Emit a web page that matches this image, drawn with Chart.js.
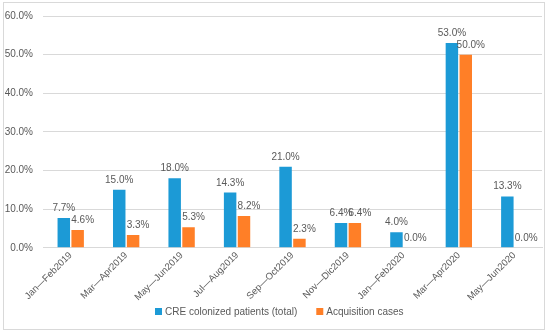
<!DOCTYPE html>
<html>
<head>
<meta charset="utf-8">
<script src="https://cdn.jsdelivr.net/npm/chart.js@4/dist/chart.umd.min.js"></script>
<style>
  html, body { margin: 0; padding: 0; background: #fff; }
  #wrap { width: 550px; height: 334px; position: relative; }
</style>
</head>
<body>
<div id="wrap"><canvas id="cre"></canvas></div>
<script>
const periods = ['Jan\u2014Feb2019', 'Mar\u2014Apr2019', 'May\u2014Jun2019', 'Jul\u2014Aug2019', 'Sep\u2014Oct2019',
    'Nov\u2014Dic2019', 'Jan\u2014Feb2020', 'Mar\u2014Apr2020', 'May\u2014Jun2020'];
const colonized = [7.7, 15.0, 18.0, 14.3, 21.0, 6.4, 4.0, 53.0, 13.3];
const acquisition = [4.6, 3.3, 5.3, 8.2, 2.3, 6.4, 0.0, 50.0, 0.0];
const seriesNames = ['CRE colonized patients (total)', 'Acquisition cases'];

const textGray = '#595959';
const fontFamily = '"Liberation Sans", Arial, sans-serif';

// value labels above each bar
const valueLabels = {
    id: 'valueLabels',
    afterDatasetsDraw(chart) {
        const ctx = chart.ctx;
        ctx.save();
        ctx.font = '10px ' + fontFamily;
        ctx.fillStyle = textGray;
        ctx.textAlign = 'center';
        ctx.textBaseline = 'alphabetic';
        chart.data.datasets.forEach((ds, i) => {
            const meta = chart.getDatasetMeta(i);
            const dx = i === 1 ? 5 : 0;
            meta.data.forEach((bar, j) => {
                ctx.fillText(ds.data[j].toFixed(1) + '%', bar.x + dx, bar.y - 7);
            });
        });
        ctx.restore();
    }
};

// legend drawn by hand so it can sit close under the slanted labels
const bottomLegend = {
    id: 'bottomLegend',
    afterDraw(chart) {
        const ctx = chart.ctx;
        ctx.save();
        ctx.font = '10px ' + fontFamily;
        ctx.textBaseline = 'middle';
        ctx.textAlign = 'left';
        let x = 155;
        const y = 312;
        chart.data.datasets.forEach(ds => {
            ctx.fillStyle = ds.backgroundColor;
            ctx.fillRect(x, y - 4, 7, 7);
            ctx.fillStyle = textGray;
            ctx.fillText(ds.label, x + 10, y);
            x += 10 + ctx.measureText(ds.label).width + 19;
        });
        ctx.restore();
    }
};

// thin frame round the picture
const frame = {
    id: 'frame',
    afterDraw(chart) {
        const ctx = chart.ctx;
        ctx.save();
        ctx.strokeStyle = '#d9d9d9';
        ctx.lineWidth = 1;
        ctx.strokeRect(3.5, 2.5, 541, 327);
        ctx.restore();
    }
};

new Chart(document.getElementById('cre'), {
    type: 'bar',
    data: {
        labels: periods,
        datasets: [{
            label: seriesNames[0],
            data: colonized,
            backgroundColor: '#1C9AD6'
        }, {
            label: seriesNames[1],
            data: acquisition,
            backgroundColor: '#FF7F27'
        }]
    },
    options: {
        responsive: true,
        maintainAspectRatio: false,
        animation: false,
        layout: { padding: { top: 10, right: 8, bottom: 29, left: 0 } },
        datasets: { bar: { categoryPercentage: 0.5, barPercentage: 0.9 } },
        plugins: {
            legend: { display: false },
            tooltip: { enabled: false }
        },
        scales: {
            x: {
                grid: { display: false, drawTicks: false },
                border: { color: '#d9d9d9' },
                ticks: {
                    maxRotation: 45,
                    minRotation: 45,
                    autoSkip: false,
                    padding: 2,
                    color: textGray,
                    font: { size: 9.5, family: fontFamily }
                }
            },
            y: {
                min: 0,
                max: 60,
                border: { display: false },
                grid: { color: '#d9d9d9', drawTicks: false },
                ticks: {
                    stepSize: 10,
                    padding: 10,
                    color: textGray,
                    font: { size: 10, family: fontFamily },
                    callback: v => v.toFixed(1) + '%'
                },
                afterFit(scale) { scale.width = 43; }
            }
        }
    },
    plugins: [valueLabels, bottomLegend, frame]
});
</script>
</body>
</html>
